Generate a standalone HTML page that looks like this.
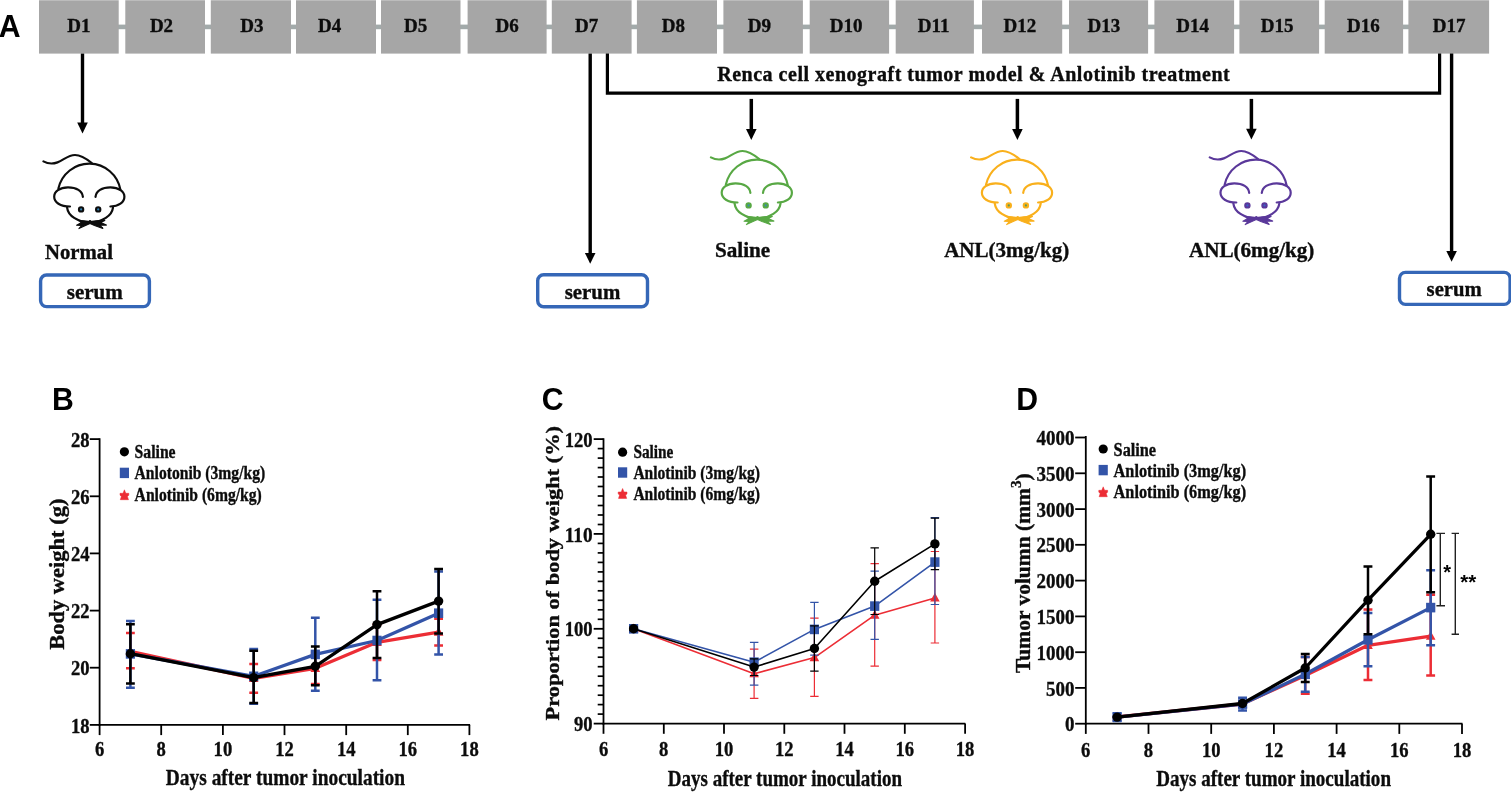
<!DOCTYPE html>
<html lang="en">
<head>
<meta charset="utf-8">
<title>Figure</title>
<style>
html,body{margin:0;padding:0;background:#fff;}
body{width:1511px;height:792px;overflow:hidden;}
svg{display:block;}
text{font-family:"Liberation Serif","Times New Roman",serif;font-weight:bold;fill:#0c0c0c;stroke:#0c0c0c;stroke-width:0.35px;}
.sans{font-family:"Liberation Sans",Arial,sans-serif;font-weight:bold;fill:#000;stroke:none;}
</style>
</head>
<body>
<svg width="1511" height="792" viewBox="0 0 1511 792">
<rect x="0" y="0" width="1511" height="792" fill="#ffffff"/>

<g id="panelA">
<text class="sans" transform="translate(-1.2,36.9) scale(0.975,1)" font-size="31">A</text>
<rect x="60" y="24.6" width="1400" height="4.6" fill="#a2aaaa"/>
<rect x="39.0" y="0" width="79.7" height="53.6" fill="#a6a6a6"/>
<rect x="125.3" y="0" width="79.7" height="53.6" fill="#a6a6a6"/>
<rect x="210.8" y="0" width="80.2" height="53.6" fill="#a6a6a6"/>
<rect x="296.0" y="0" width="80.0" height="53.6" fill="#a6a6a6"/>
<rect x="381.0" y="0" width="79.5" height="53.6" fill="#a6a6a6"/>
<rect x="467.6" y="0" width="79.0" height="53.6" fill="#a6a6a6"/>
<rect x="551.8" y="0" width="79.8" height="53.6" fill="#a6a6a6"/>
<rect x="636.9" y="0" width="80.1" height="53.6" fill="#a6a6a6"/>
<rect x="723.4" y="0" width="79.5" height="53.6" fill="#a6a6a6"/>
<rect x="809.7" y="0" width="79.4" height="53.6" fill="#a6a6a6"/>
<rect x="895.7" y="0" width="78.2" height="53.6" fill="#a6a6a6"/>
<rect x="982.0" y="0" width="80.2" height="53.6" fill="#a6a6a6"/>
<rect x="1069.0" y="0" width="79.1" height="53.6" fill="#a6a6a6"/>
<rect x="1154.4" y="0" width="79.7" height="53.6" fill="#a6a6a6"/>
<rect x="1239.4" y="0" width="79.7" height="53.6" fill="#a6a6a6"/>
<rect x="1324.7" y="0" width="78.4" height="53.6" fill="#a6a6a6"/>
<rect x="1408.4" y="0" width="80.7" height="53.6" fill="#a6a6a6"/>
<rect x="39" y="0" width="1450.1" height="0.9" fill="#ffffff" opacity="0.28"/>
<text x="78.9" y="31.6" font-size="19" text-anchor="middle">D1</text>
<text x="161.5" y="31.6" font-size="19" text-anchor="middle">D2</text>
<text x="251.9" y="31.6" font-size="19" text-anchor="middle">D3</text>
<text x="329.7" y="31.6" font-size="19" text-anchor="middle">D4</text>
<text x="415.7" y="31.6" font-size="19" text-anchor="middle">D5</text>
<text x="507.1" y="31.6" font-size="19" text-anchor="middle">D6</text>
<text x="586.7" y="31.6" font-size="19" text-anchor="middle">D7</text>
<text x="673.3" y="31.6" font-size="19" text-anchor="middle">D8</text>
<text x="759.4" y="31.6" font-size="19" text-anchor="middle">D9</text>
<text x="846.1" y="31.6" font-size="19" text-anchor="middle">D10</text>
<text x="933.7" y="31.6" font-size="19" text-anchor="middle">D11</text>
<text x="1019.8" y="31.6" font-size="19" text-anchor="middle">D12</text>
<text x="1103.9" y="31.6" font-size="19" text-anchor="middle">D13</text>
<text x="1192.6" y="31.6" font-size="19" text-anchor="middle">D14</text>
<text x="1277.1" y="31.6" font-size="19" text-anchor="middle">D15</text>
<text x="1363.3" y="31.6" font-size="19" text-anchor="middle">D16</text>
<text x="1449.2" y="31.6" font-size="19" text-anchor="middle">D17</text>
<line x1="82.5" y1="53.6" x2="82.5" y2="123.6" stroke="#000" stroke-width="3.4"/>
<polygon points="77.2,122.6 87.8,122.6 82.5,133.5" fill="#000"/>
<line x1="590.2" y1="53.6" x2="590.2" y2="253.9" stroke="#000" stroke-width="3.4"/>
<polygon points="584.9,252.9 595.5,252.9 590.2,263.8" fill="#000"/>
<line x1="1451.6" y1="53.6" x2="1451.6" y2="251.9" stroke="#000" stroke-width="3.4"/>
<polygon points="1446.3,250.9 1456.9,250.9 1451.6,261.8" fill="#000"/>
<polyline points="607.4,53.6 607.4,93.2 1439.6,93.2 1439.6,53.6" fill="none" stroke="#000" stroke-width="3.2" stroke-linejoin="miter"/>
<line x1="751.3" y1="98.9" x2="751.3" y2="130.0" stroke="#000" stroke-width="3.5"/>
<polygon points="746.0,129.0 756.6,129.0 751.3,139.9" fill="#000"/>
<line x1="1017.4" y1="98.9" x2="1017.4" y2="130.0" stroke="#000" stroke-width="3.5"/>
<polygon points="1012.1,129.0 1022.7,129.0 1017.4,139.9" fill="#000"/>
<line x1="1251.4" y1="98.9" x2="1251.4" y2="129.7" stroke="#000" stroke-width="3.5"/>
<polygon points="1246.1,128.7 1256.7,128.7 1251.4,139.6" fill="#000"/>
<text x="717.2" y="80.9" font-size="20" textLength="512.5" lengthAdjust="spacing">Renca cell xenograft tumor model &amp; Anlotinib treatment</text>
<g transform="translate(0,0)" fill="none" stroke="#0d0d0d" stroke-width="2.2" stroke-linecap="round" stroke-linejoin="round">
<path d="M43.4,161.4 C47.5,163.6 52.5,164.2 57.5,162.4 C63.5,160.2 68,155 75,155 C81.5,155 86.5,158.8 91.8,163"/>
<path d="M58.4,188.6 A31.6,31.6 0 0 1 120.4,189.8"/>
<path d="M82.9,196.9 C82.3,191 76.5,187.4 68,187.4 C59.5,187.4 54.2,191.6 54.2,196.8 C54.2,202.3 60.2,206.5 70,206.5"/>
<path d="M95.5,196.9 C96.1,191 101.9,187.4 110.4,187.4 C118.9,187.4 124.4,191.6 124.4,196.8 C124.4,202.3 118.6,206.5 110.4,206.5"/>
<path d="M67.1,207.6 C68,215.6 77.5,222.3 90,222.3 C102.5,222.3 112,215.6 113,207.6"/>
<path d="M90,221.6 L84,220.9 L78.4,220.6 L81.5,222.6 L76.6,225.2 L81.8,225.4 L78.9,228.6 L85.5,225.6 L90,223.6 L94.5,225.4 L102.9,228.4 L99.8,225.2 L106.4,225.1 L100.6,222.6 L104.8,220.4 L96,220.9 Z" fill="#0d0d0d" stroke="#0d0d0d" stroke-width="1.1"/>
<circle cx="90" cy="221.4" r="1.3" fill="#0d0d0d" stroke="none"/>
<circle cx="81.1" cy="209.4" r="2.1" fill="#0d0d0d"/>
<circle cx="98.2" cy="209.4" r="2.1" fill="#0d0d0d"/>
<circle cx="81.1" cy="209.4" r="1.1" fill="#2f7fb0" stroke="none"/>
<circle cx="98.2" cy="209.4" r="1.1" fill="#2f7fb0" stroke="none"/>
</g>
<g transform="translate(667.5,-4)" fill="none" stroke="#58a844" stroke-width="2.2" stroke-linecap="round" stroke-linejoin="round">
<path d="M43.4,161.4 C47.5,163.6 52.5,164.2 57.5,162.4 C63.5,160.2 68,155 75,155 C81.5,155 86.5,158.8 91.8,163"/>
<path d="M58.4,188.6 A31.6,31.6 0 0 1 120.4,189.8"/>
<path d="M82.9,196.9 C82.3,191 76.5,187.4 68,187.4 C59.5,187.4 54.2,191.6 54.2,196.8 C54.2,202.3 60.2,206.5 70,206.5"/>
<path d="M95.5,196.9 C96.1,191 101.9,187.4 110.4,187.4 C118.9,187.4 124.4,191.6 124.4,196.8 C124.4,202.3 118.6,206.5 110.4,206.5"/>
<path d="M67.1,207.6 C68,215.6 77.5,222.3 90,222.3 C102.5,222.3 112,215.6 113,207.6"/>
<path d="M90,221.6 L84,220.9 L78.4,220.6 L81.5,222.6 L76.6,225.2 L81.8,225.4 L78.9,228.6 L85.5,225.6 L90,223.6 L94.5,225.4 L102.9,228.4 L99.8,225.2 L106.4,225.1 L100.6,222.6 L104.8,220.4 L96,220.9 Z" fill="#58a844" stroke="#58a844" stroke-width="1.1"/>
<circle cx="90" cy="221.4" r="1.3" fill="#58a844" stroke="none"/>
<circle cx="81.1" cy="209.4" r="2.1" fill="#58a844"/>
<circle cx="98.2" cy="209.4" r="2.1" fill="#58a844"/>
<circle cx="81.1" cy="209.4" r="1.1" fill="#3a8fb0" stroke="none"/>
<circle cx="98.2" cy="209.4" r="1.1" fill="#3a8fb0" stroke="none"/>
</g>
<g transform="translate(927.7,-4)" fill="none" stroke="#f9b01c" stroke-width="2.2" stroke-linecap="round" stroke-linejoin="round">
<path d="M43.4,161.4 C47.5,163.6 52.5,164.2 57.5,162.4 C63.5,160.2 68,155 75,155 C81.5,155 86.5,158.8 91.8,163"/>
<path d="M58.4,188.6 A31.6,31.6 0 0 1 120.4,189.8"/>
<path d="M82.9,196.9 C82.3,191 76.5,187.4 68,187.4 C59.5,187.4 54.2,191.6 54.2,196.8 C54.2,202.3 60.2,206.5 70,206.5"/>
<path d="M95.5,196.9 C96.1,191 101.9,187.4 110.4,187.4 C118.9,187.4 124.4,191.6 124.4,196.8 C124.4,202.3 118.6,206.5 110.4,206.5"/>
<path d="M67.1,207.6 C68,215.6 77.5,222.3 90,222.3 C102.5,222.3 112,215.6 113,207.6"/>
<path d="M90,221.6 L84,220.9 L78.4,220.6 L81.5,222.6 L76.6,225.2 L81.8,225.4 L78.9,228.6 L85.5,225.6 L90,223.6 L94.5,225.4 L102.9,228.4 L99.8,225.2 L106.4,225.1 L100.6,222.6 L104.8,220.4 L96,220.9 Z" fill="#f9b01c" stroke="#f9b01c" stroke-width="1.1"/>
<circle cx="90" cy="221.4" r="1.3" fill="#f9b01c" stroke="none"/>
<circle cx="81.1" cy="209.4" r="2.1" fill="#f9b01c"/>
<circle cx="98.2" cy="209.4" r="2.1" fill="#f9b01c"/>
<circle cx="81.1" cy="209.4" r="1.1" fill="#5a9a5a" stroke="none"/>
<circle cx="98.2" cy="209.4" r="1.1" fill="#5a9a5a" stroke="none"/>
</g>
<g transform="translate(1166.3,-4)" fill="none" stroke="#5a389a" stroke-width="2.2" stroke-linecap="round" stroke-linejoin="round">
<path d="M43.4,161.4 C47.5,163.6 52.5,164.2 57.5,162.4 C63.5,160.2 68,155 75,155 C81.5,155 86.5,158.8 91.8,163"/>
<path d="M58.4,188.6 A31.6,31.6 0 0 1 120.4,189.8"/>
<path d="M82.9,196.9 C82.3,191 76.5,187.4 68,187.4 C59.5,187.4 54.2,191.6 54.2,196.8 C54.2,202.3 60.2,206.5 70,206.5"/>
<path d="M95.5,196.9 C96.1,191 101.9,187.4 110.4,187.4 C118.9,187.4 124.4,191.6 124.4,196.8 C124.4,202.3 118.6,206.5 110.4,206.5"/>
<path d="M67.1,207.6 C68,215.6 77.5,222.3 90,222.3 C102.5,222.3 112,215.6 113,207.6"/>
<path d="M90,221.6 L84,220.9 L78.4,220.6 L81.5,222.6 L76.6,225.2 L81.8,225.4 L78.9,228.6 L85.5,225.6 L90,223.6 L94.5,225.4 L102.9,228.4 L99.8,225.2 L106.4,225.1 L100.6,222.6 L104.8,220.4 L96,220.9 Z" fill="#5a389a" stroke="#5a389a" stroke-width="1.1"/>
<circle cx="90" cy="221.4" r="1.3" fill="#5a389a" stroke="none"/>
<circle cx="81.1" cy="209.4" r="2.1" fill="#5a389a"/>
<circle cx="98.2" cy="209.4" r="2.1" fill="#5a389a"/>
<circle cx="81.1" cy="209.4" r="1.1" fill="#3a63c8" stroke="none"/>
<circle cx="98.2" cy="209.4" r="1.1" fill="#3a63c8" stroke="none"/>
</g>
<text x="45" y="258.8" font-size="20.5" textLength="68" lengthAdjust="spacingAndGlyphs">Normal</text>
<text x="715" y="257.4" font-size="20.5" textLength="55.2" lengthAdjust="spacingAndGlyphs">Saline</text>
<text x="944.2" y="257.4" font-size="20.5" textLength="125" lengthAdjust="spacingAndGlyphs">ANL(3mg/kg)</text>
<text x="1188.9" y="257.4" font-size="20.5" textLength="125.5" lengthAdjust="spacingAndGlyphs">ANL(6mg/kg)</text>
<rect x="40.6" y="275.0" width="108.8" height="31.6" rx="6" ry="6" fill="#fff" stroke="#3567b7" stroke-width="3.4"/>
<text x="66.7" y="299.0" font-size="21.5" textLength="56.1" lengthAdjust="spacingAndGlyphs">serum</text>
<rect x="537.7" y="274.7" width="109.8" height="32.1" rx="6" ry="6" fill="#fff" stroke="#3567b7" stroke-width="3.4"/>
<text x="564.7" y="298.9" font-size="21.5" textLength="55.6" lengthAdjust="spacingAndGlyphs">serum</text>
<rect x="1399.5" y="272.4" width="110.6" height="32.0" rx="6" ry="6" fill="#fff" stroke="#3567b7" stroke-width="3.4"/>
<text x="1426.6" y="296.1" font-size="21.5" textLength="55.2" lengthAdjust="spacingAndGlyphs">serum</text>
</g>
<g id="chartB">
<text class="sans" transform="translate(52.1,409.90000000000003) scale(0.975,1)" font-size="31">B</text>
<path d="M130.4,633.0 V668.2 M126.0,633.0 H134.8 M126.0,668.2 H134.8" stroke="#ec2d35" stroke-width="2.5" fill="none"/>
<path d="M253.7,663.9 V692.8 M249.3,663.9 H258.1 M249.3,692.8 H258.1" stroke="#ec2d35" stroke-width="2.5" fill="none"/>
<path d="M315.3,652.7 V683.9 M310.9,652.7 H319.7 M310.9,683.9 H319.7" stroke="#ec2d35" stroke-width="2.5" fill="none"/>
<path d="M377.0,624.6 V660.0 M372.6,624.6 H381.4 M372.6,660.0 H381.4" stroke="#ec2d35" stroke-width="2.5" fill="none"/>
<path d="M438.6,618.8 V645.6 M434.2,618.8 H443.0 M434.2,645.6 H443.0" stroke="#ec2d35" stroke-width="2.5" fill="none"/>
<polyline points="130.4,651.3 253.7,678.4 315.3,668.3 377.0,642.3 438.6,632.2" fill="none" stroke="#ec2d35" stroke-width="3.3" stroke-linejoin="round"/>
<polygon points="130.4,646.1 135.2,654.9 125.6,654.9" fill="#ec2d35"/>
<polygon points="253.7,673.2 258.5,682.0 248.9,682.0" fill="#ec2d35"/>
<polygon points="315.3,663.1 320.1,671.9 310.5,671.9" fill="#ec2d35"/>
<polygon points="377.0,637.1 381.8,645.9 372.2,645.9" fill="#ec2d35"/>
<polygon points="438.6,627.0 443.4,635.8 433.8,635.8" fill="#ec2d35"/>
<path d="M130.4,621.0 V687.8 M126.0,621.0 H134.8 M126.0,687.8 H134.8" stroke="#3354a8" stroke-width="2.5" fill="none"/>
<path d="M253.7,648.9 V703.7 M249.3,648.9 H258.1 M249.3,703.7 H258.1" stroke="#3354a8" stroke-width="2.5" fill="none"/>
<path d="M315.3,617.8 V690.8 M310.9,617.8 H319.7 M310.9,690.8 H319.7" stroke="#3354a8" stroke-width="2.5" fill="none"/>
<path d="M377.0,599.8 V680.2 M372.6,599.8 H381.4 M372.6,680.2 H381.4" stroke="#3354a8" stroke-width="2.5" fill="none"/>
<path d="M438.6,571.6 V654.4 M434.2,571.6 H443.0 M434.2,654.4 H443.0" stroke="#3354a8" stroke-width="2.5" fill="none"/>
<polyline points="130.4,653.9 253.7,676.3 315.3,654.4 377.0,640.5 438.6,613.2" fill="none" stroke="#3354a8" stroke-width="3.3" stroke-linejoin="round"/>
<rect x="125.8" y="649.1" width="9.2" height="9.6" fill="#3354a8"/>
<rect x="249.1" y="671.5" width="9.2" height="9.6" fill="#3354a8"/>
<rect x="310.7" y="649.6" width="9.2" height="9.6" fill="#3354a8"/>
<rect x="372.4" y="635.7" width="9.2" height="9.6" fill="#3354a8"/>
<rect x="434.0" y="608.4" width="9.2" height="9.6" fill="#3354a8"/>
<path d="M130.4,624.3 V683.4 M126.0,624.3 H134.8 M126.0,683.4 H134.8" stroke="#000" stroke-width="2.5" fill="none"/>
<path d="M253.7,650.8 V703.0 M249.3,650.8 H258.1 M249.3,703.0 H258.1" stroke="#000" stroke-width="2.5" fill="none"/>
<path d="M315.3,646.6 V685.2 M310.9,646.6 H319.7 M310.9,685.2 H319.7" stroke="#000" stroke-width="2.5" fill="none"/>
<path d="M377.0,591.3 V657.9 M372.6,591.3 H381.4 M372.6,657.9 H381.4" stroke="#000" stroke-width="2.5" fill="none"/>
<path d="M438.6,569.0 V633.4 M434.2,569.0 H443.0 M434.2,633.4 H443.0" stroke="#000" stroke-width="2.5" fill="none"/>
<polyline points="130.4,653.7 253.7,677.6 315.3,666.3 377.0,624.6 438.6,601.1" fill="none" stroke="#000" stroke-width="3.3" stroke-linejoin="round"/>
<circle cx="130.4" cy="653.7" r="4.7" fill="#000"/>
<circle cx="253.7" cy="677.6" r="4.7" fill="#000"/>
<circle cx="315.3" cy="666.3" r="4.7" fill="#000"/>
<circle cx="377.0" cy="624.6" r="4.7" fill="#000"/>
<circle cx="438.6" cy="601.1" r="4.7" fill="#000"/>
<path d="M99.6,438.20000000000005 V725.8" stroke="#000" stroke-width="1.8" fill="none"/>
<path d="M98.69999999999999,724.9 H470.09999999999997" stroke="#000" stroke-width="1.8" fill="none"/>
<line x1="89.8" y1="724.9" x2="99.6" y2="724.9" stroke="#000" stroke-width="1.8"/>
<text x="71.0" y="732.5" font-size="21.3" textLength="18.6" lengthAdjust="spacingAndGlyphs">18</text>
<line x1="89.8" y1="667.7" x2="99.6" y2="667.7" stroke="#000" stroke-width="1.8"/>
<text x="71.0" y="675.3" font-size="21.3" textLength="18.6" lengthAdjust="spacingAndGlyphs">20</text>
<line x1="89.8" y1="610.6" x2="99.6" y2="610.6" stroke="#000" stroke-width="1.8"/>
<text x="71.0" y="618.2" font-size="21.3" textLength="18.6" lengthAdjust="spacingAndGlyphs">22</text>
<line x1="89.8" y1="553.4" x2="99.6" y2="553.4" stroke="#000" stroke-width="1.8"/>
<text x="71.0" y="561.0" font-size="21.3" textLength="18.6" lengthAdjust="spacingAndGlyphs">24</text>
<line x1="89.8" y1="496.3" x2="99.6" y2="496.3" stroke="#000" stroke-width="1.8"/>
<text x="71.0" y="503.9" font-size="21.3" textLength="18.6" lengthAdjust="spacingAndGlyphs">26</text>
<line x1="89.8" y1="439.1" x2="99.6" y2="439.1" stroke="#000" stroke-width="1.8"/>
<text x="71.0" y="446.7" font-size="21.3" textLength="18.6" lengthAdjust="spacingAndGlyphs">28</text>
<line x1="99.6" y1="724.9" x2="99.6" y2="735.1" stroke="#000" stroke-width="1.8"/>
<text x="94.9" y="756.1999999999999" font-size="21.3" textLength="9.3" lengthAdjust="spacingAndGlyphs">6</text>
<line x1="161.2" y1="724.9" x2="161.2" y2="735.1" stroke="#000" stroke-width="1.8"/>
<text x="156.6" y="756.1999999999999" font-size="21.3" textLength="9.3" lengthAdjust="spacingAndGlyphs">8</text>
<line x1="222.9" y1="724.9" x2="222.9" y2="735.1" stroke="#000" stroke-width="1.8"/>
<text x="213.6" y="756.1999999999999" font-size="21.3" textLength="18.6" lengthAdjust="spacingAndGlyphs">10</text>
<line x1="284.5" y1="724.9" x2="284.5" y2="735.1" stroke="#000" stroke-width="1.8"/>
<text x="275.2" y="756.1999999999999" font-size="21.3" textLength="18.6" lengthAdjust="spacingAndGlyphs">12</text>
<line x1="346.2" y1="724.9" x2="346.2" y2="735.1" stroke="#000" stroke-width="1.8"/>
<text x="336.9" y="756.1999999999999" font-size="21.3" textLength="18.6" lengthAdjust="spacingAndGlyphs">14</text>
<line x1="407.8" y1="724.9" x2="407.8" y2="735.1" stroke="#000" stroke-width="1.8"/>
<text x="398.5" y="756.1999999999999" font-size="21.3" textLength="18.6" lengthAdjust="spacingAndGlyphs">16</text>
<line x1="469.4" y1="724.9" x2="469.4" y2="735.1" stroke="#000" stroke-width="1.8"/>
<text x="460.1" y="756.1999999999999" font-size="21.3" textLength="18.6" lengthAdjust="spacingAndGlyphs">18</text>
<text x="165.8" y="784.9" font-size="22.5" textLength="239.2" lengthAdjust="spacingAndGlyphs">Days after tumor inoculation</text>
<text transform="translate(63.6,649.8) rotate(-90)" x="0" y="0" font-size="20.6" textLength="151.2" lengthAdjust="spacingAndGlyphs">Body weight (g)</text>
<circle cx="124.4" cy="451.8" r="4.6" fill="#000"/>
<text x="134.6" y="458.0" font-size="18" textLength="41.0" lengthAdjust="spacingAndGlyphs">Saline</text>
<rect x="119.8" y="467.7" width="9.2" height="10.4" fill="#3354a8"/>
<text x="134.6" y="479.3" font-size="18" textLength="130.6" lengthAdjust="spacingAndGlyphs">Anlotonib (3mg/kg)</text>
<polygon points="124.4,489.8 125.8,493.3 128.8,493.3 128.8,495.2 127.4,496.4 128.5,499.7 120.3,499.7 121.4,496.4 120.0,495.2 120.0,493.3 123.0,493.3" fill="#ec2d35" stroke="#ec2d35" stroke-width="0.5" stroke-linejoin="round"/>
<text x="134.6" y="500.9" font-size="18" textLength="127.2" lengthAdjust="spacingAndGlyphs">Anlotinib (6mg/kg)</text>
</g>
<g id="chartC">
<text class="sans" transform="translate(541.7,409.90000000000003) scale(0.975,1)" font-size="31">C</text>
<path d="M633.6,627.0 V630.6 M629.4,627.0 H637.8 M629.4,630.6 H637.8" stroke="#ec2d35" stroke-width="1.2" fill="none"/>
<path d="M754.1,649.2 V698.4 M749.9,649.2 H758.4 M749.9,698.4 H758.4" stroke="#ec2d35" stroke-width="1.2" fill="none"/>
<path d="M814.4,618.2 V696.4 M810.2,618.2 H818.6 M810.2,696.4 H818.6" stroke="#ec2d35" stroke-width="1.2" fill="none"/>
<path d="M874.7,563.6 V666.1 M870.5,563.6 H878.9 M870.5,666.1 H878.9" stroke="#ec2d35" stroke-width="1.2" fill="none"/>
<path d="M934.9,551.5 V643.0 M930.7,551.5 H939.1 M930.7,643.0 H939.1" stroke="#ec2d35" stroke-width="1.2" fill="none"/>
<polyline points="633.6,628.8 754.1,673.7 814.4,657.6 874.7,615.2 934.9,597.9" fill="none" stroke="#ec2d35" stroke-width="1.6" stroke-linejoin="round"/>
<polygon points="633.6,623.6 638.4,632.4 628.8,632.4" fill="#ec2d35"/>
<polygon points="754.1,668.5 758.9,677.3 749.4,677.3" fill="#ec2d35"/>
<polygon points="814.4,652.4 819.2,661.2 809.6,661.2" fill="#ec2d35"/>
<polygon points="874.7,610.0 879.5,618.8 869.9,618.8" fill="#ec2d35"/>
<polygon points="934.9,592.7 939.7,601.5 930.1,601.5" fill="#ec2d35"/>
<path d="M633.6,626.0 V631.6 M629.4,626.0 H637.8 M629.4,631.6 H637.8" stroke="#3354a8" stroke-width="1.2" fill="none"/>
<path d="M754.1,642.3 V685.2 M749.9,642.3 H758.4 M749.9,685.2 H758.4" stroke="#3354a8" stroke-width="1.2" fill="none"/>
<path d="M814.4,602.4 V655.2 M810.2,602.4 H818.6 M810.2,655.2 H818.6" stroke="#3354a8" stroke-width="1.2" fill="none"/>
<path d="M874.7,571.2 V639.4 M870.5,571.2 H878.9 M870.5,639.4 H878.9" stroke="#3354a8" stroke-width="1.2" fill="none"/>
<path d="M934.9,517.6 V604.5 M930.7,517.6 H939.1 M930.7,604.5 H939.1" stroke="#3354a8" stroke-width="1.2" fill="none"/>
<polyline points="633.6,628.8 754.1,662.2 814.4,629.4 874.7,606.1 934.9,562.1" fill="none" stroke="#3354a8" stroke-width="1.6" stroke-linejoin="round"/>
<rect x="629.0" y="624.0" width="9.2" height="9.6" fill="#3354a8"/>
<rect x="749.5" y="657.4" width="9.2" height="9.6" fill="#3354a8"/>
<rect x="809.8" y="624.6" width="9.2" height="9.6" fill="#3354a8"/>
<rect x="870.1" y="601.3" width="9.2" height="9.6" fill="#3354a8"/>
<rect x="930.3" y="557.3" width="9.2" height="9.6" fill="#3354a8"/>
<path d="M633.6,627.0 V630.6 M629.4,627.0 H637.8 M629.4,630.6 H637.8" stroke="#000" stroke-width="1.2" fill="none"/>
<path d="M754.1,658.9 V675.5 M749.9,658.9 H758.4 M749.9,675.5 H758.4" stroke="#000" stroke-width="1.2" fill="none"/>
<path d="M814.4,625.8 V671.2 M810.2,625.8 H818.6 M810.2,671.2 H818.6" stroke="#000" stroke-width="1.2" fill="none"/>
<path d="M874.7,547.9 V614.5 M870.5,547.9 H878.9 M870.5,614.5 H878.9" stroke="#000" stroke-width="1.2" fill="none"/>
<path d="M934.9,518.2 V569.7 M930.7,518.2 H939.1 M930.7,569.7 H939.1" stroke="#000" stroke-width="1.2" fill="none"/>
<polyline points="633.6,628.8 754.1,667.1 814.4,648.5 874.7,581.2 934.9,543.9" fill="none" stroke="#000" stroke-width="1.6" stroke-linejoin="round"/>
<circle cx="633.6" cy="628.8" r="4.7" fill="#000"/>
<circle cx="754.1" cy="667.1" r="4.7" fill="#000"/>
<circle cx="814.4" cy="648.5" r="4.7" fill="#000"/>
<circle cx="874.7" cy="581.2" r="4.7" fill="#000"/>
<circle cx="934.9" cy="543.9" r="4.7" fill="#000"/>
<path d="M603.5,438.20000000000005 V724.5" stroke="#000" stroke-width="1.8" fill="none"/>
<path d="M602.6,723.6 H965.3" stroke="#000" stroke-width="1.8" fill="none"/>
<line x1="593.7" y1="723.6" x2="603.5" y2="723.6" stroke="#000" stroke-width="1.8"/>
<text x="574.0" y="731.2" font-size="21.3" textLength="18.6" lengthAdjust="spacingAndGlyphs">90</text>
<line x1="593.7" y1="628.8" x2="603.5" y2="628.8" stroke="#000" stroke-width="1.8"/>
<text x="564.7" y="636.4" font-size="21.3" textLength="27.9" lengthAdjust="spacingAndGlyphs">100</text>
<line x1="593.7" y1="533.9" x2="603.5" y2="533.9" stroke="#000" stroke-width="1.8"/>
<text x="564.7" y="541.5" font-size="21.3" textLength="27.9" lengthAdjust="spacingAndGlyphs">110</text>
<line x1="593.7" y1="439.1" x2="603.5" y2="439.1" stroke="#000" stroke-width="1.8"/>
<text x="564.7" y="446.7" font-size="21.3" textLength="27.9" lengthAdjust="spacingAndGlyphs">120</text>
<line x1="597.7" y1="714.1" x2="603.5" y2="714.1" stroke="#000" stroke-width="1.7"/>
<line x1="597.7" y1="704.6" x2="603.5" y2="704.6" stroke="#000" stroke-width="1.7"/>
<line x1="597.7" y1="695.2" x2="603.5" y2="695.2" stroke="#000" stroke-width="1.7"/>
<line x1="597.7" y1="685.7" x2="603.5" y2="685.7" stroke="#000" stroke-width="1.7"/>
<line x1="597.7" y1="676.2" x2="603.5" y2="676.2" stroke="#000" stroke-width="1.7"/>
<line x1="597.7" y1="666.7" x2="603.5" y2="666.7" stroke="#000" stroke-width="1.7"/>
<line x1="597.7" y1="657.2" x2="603.5" y2="657.2" stroke="#000" stroke-width="1.7"/>
<line x1="597.7" y1="647.7" x2="603.5" y2="647.7" stroke="#000" stroke-width="1.7"/>
<line x1="597.7" y1="638.3" x2="603.5" y2="638.3" stroke="#000" stroke-width="1.7"/>
<line x1="597.7" y1="619.3" x2="603.5" y2="619.3" stroke="#000" stroke-width="1.7"/>
<line x1="597.7" y1="609.8" x2="603.5" y2="609.8" stroke="#000" stroke-width="1.7"/>
<line x1="597.7" y1="600.3" x2="603.5" y2="600.3" stroke="#000" stroke-width="1.7"/>
<line x1="597.7" y1="590.8" x2="603.5" y2="590.8" stroke="#000" stroke-width="1.7"/>
<line x1="597.7" y1="581.4" x2="603.5" y2="581.4" stroke="#000" stroke-width="1.7"/>
<line x1="597.7" y1="571.9" x2="603.5" y2="571.9" stroke="#000" stroke-width="1.7"/>
<line x1="597.7" y1="562.4" x2="603.5" y2="562.4" stroke="#000" stroke-width="1.7"/>
<line x1="597.7" y1="552.9" x2="603.5" y2="552.9" stroke="#000" stroke-width="1.7"/>
<line x1="597.7" y1="543.4" x2="603.5" y2="543.4" stroke="#000" stroke-width="1.7"/>
<line x1="597.7" y1="524.5" x2="603.5" y2="524.5" stroke="#000" stroke-width="1.7"/>
<line x1="597.7" y1="515.0" x2="603.5" y2="515.0" stroke="#000" stroke-width="1.7"/>
<line x1="597.7" y1="505.5" x2="603.5" y2="505.5" stroke="#000" stroke-width="1.7"/>
<line x1="597.7" y1="496.0" x2="603.5" y2="496.0" stroke="#000" stroke-width="1.7"/>
<line x1="597.7" y1="486.5" x2="603.5" y2="486.5" stroke="#000" stroke-width="1.7"/>
<line x1="597.7" y1="477.0" x2="603.5" y2="477.0" stroke="#000" stroke-width="1.7"/>
<line x1="597.7" y1="467.6" x2="603.5" y2="467.6" stroke="#000" stroke-width="1.7"/>
<line x1="597.7" y1="458.1" x2="603.5" y2="458.1" stroke="#000" stroke-width="1.7"/>
<line x1="597.7" y1="448.6" x2="603.5" y2="448.6" stroke="#000" stroke-width="1.7"/>
<line x1="603.5" y1="723.6" x2="603.5" y2="733.8000000000001" stroke="#000" stroke-width="1.8"/>
<text x="598.9" y="756.3" font-size="21.3" textLength="9.3" lengthAdjust="spacingAndGlyphs">6</text>
<line x1="663.8" y1="723.6" x2="663.8" y2="733.8000000000001" stroke="#000" stroke-width="1.8"/>
<text x="659.1" y="756.3" font-size="21.3" textLength="9.3" lengthAdjust="spacingAndGlyphs">8</text>
<line x1="724.0" y1="723.6" x2="724.0" y2="733.8000000000001" stroke="#000" stroke-width="1.8"/>
<text x="714.7" y="756.3" font-size="21.3" textLength="18.6" lengthAdjust="spacingAndGlyphs">10</text>
<line x1="784.3" y1="723.6" x2="784.3" y2="733.8000000000001" stroke="#000" stroke-width="1.8"/>
<text x="775.0" y="756.3" font-size="21.3" textLength="18.6" lengthAdjust="spacingAndGlyphs">12</text>
<line x1="844.5" y1="723.6" x2="844.5" y2="733.8000000000001" stroke="#000" stroke-width="1.8"/>
<text x="835.2" y="756.3" font-size="21.3" textLength="18.6" lengthAdjust="spacingAndGlyphs">14</text>
<line x1="904.8" y1="723.6" x2="904.8" y2="733.8000000000001" stroke="#000" stroke-width="1.8"/>
<text x="895.5" y="756.3" font-size="21.3" textLength="18.6" lengthAdjust="spacingAndGlyphs">16</text>
<line x1="965.1" y1="723.6" x2="965.1" y2="733.8000000000001" stroke="#000" stroke-width="1.8"/>
<text x="955.8" y="756.3" font-size="21.3" textLength="18.6" lengthAdjust="spacingAndGlyphs">18</text>
<text x="667.8" y="785.5" font-size="22.5" textLength="234.2" lengthAdjust="spacingAndGlyphs">Days after tumor inoculation</text>
<text transform="translate(558.6,720.4) rotate(-90)" x="0" y="0" font-size="19.4" textLength="294.4" lengthAdjust="spacingAndGlyphs">Proportion of body weight (%)</text>
<circle cx="622.6" cy="452.2" r="4.6" fill="#000"/>
<text x="633.4" y="458.4" font-size="18" textLength="40.0" lengthAdjust="spacingAndGlyphs">Saline</text>
<rect x="618.0" y="467.3" width="9.2" height="10.4" fill="#3354a8"/>
<text x="633.4" y="479.3" font-size="18" textLength="126.6" lengthAdjust="spacingAndGlyphs">Anlotinib (3mg/kg)</text>
<polygon points="622.6,488.5 624.0,492.0 627.0,492.0 627.0,493.9 625.6,495.1 626.7,498.4 618.5,498.4 619.6,495.1 618.2,493.9 618.2,492.0 621.2,492.0" fill="#ec2d35" stroke="#ec2d35" stroke-width="0.5" stroke-linejoin="round"/>
<text x="633.4" y="499.8" font-size="18" textLength="126.6" lengthAdjust="spacingAndGlyphs">Anlotinib (6mg/kg)</text>
</g>
<g id="chartD">
<text class="sans" transform="translate(1016.3000000000001,409.90000000000003) scale(0.975,1)" font-size="31">D</text>
<path d="M1117.1,717.0 V717.0 M1112.7,717.0 H1121.5 M1112.7,717.0 H1121.5" stroke="#ec2d35" stroke-width="2.5" fill="none"/>
<path d="M1242.5,704.0 V704.0 M1238.1,704.0 H1247.0 M1238.1,704.0 H1247.0" stroke="#ec2d35" stroke-width="2.5" fill="none"/>
<path d="M1305.2,657.0 V693.7 M1300.8,657.0 H1309.7 M1300.8,693.7 H1309.7" stroke="#ec2d35" stroke-width="2.5" fill="none"/>
<path d="M1368.0,609.4 V680.1 M1363.5,609.4 H1372.4 M1363.5,680.1 H1372.4" stroke="#ec2d35" stroke-width="2.5" fill="none"/>
<path d="M1430.7,594.7 V675.4 M1426.2,594.7 H1435.1 M1426.2,675.4 H1435.1" stroke="#ec2d35" stroke-width="2.5" fill="none"/>
<polyline points="1117.1,717.0 1242.5,704.0 1305.2,675.4 1368.0,645.3 1430.7,636.1" fill="none" stroke="#ec2d35" stroke-width="3.3" stroke-linejoin="round"/>
<polygon points="1117.1,711.8 1121.9,720.6 1112.3,720.6" fill="#ec2d35"/>
<polygon points="1242.5,698.8 1247.3,707.6 1237.8,707.6" fill="#ec2d35"/>
<polygon points="1305.2,670.2 1310.0,679.0 1300.5,679.0" fill="#ec2d35"/>
<polygon points="1368.0,640.1 1372.8,648.9 1363.2,648.9" fill="#ec2d35"/>
<polygon points="1430.7,630.9 1435.5,639.7 1425.9,639.7" fill="#ec2d35"/>
<path d="M1117.1,713.2 V721.1 M1112.7,713.2 H1121.5 M1112.7,721.1 H1121.5" stroke="#3354a8" stroke-width="2.5" fill="none"/>
<path d="M1242.5,697.8 V710.4 M1238.1,697.8 H1247.0 M1238.1,710.4 H1247.0" stroke="#3354a8" stroke-width="2.5" fill="none"/>
<path d="M1305.2,657.0 V691.8 M1300.8,657.0 H1309.7 M1300.8,691.8 H1309.7" stroke="#3354a8" stroke-width="2.5" fill="none"/>
<path d="M1368.0,613.0 V666.2 M1363.5,613.0 H1372.4 M1363.5,666.2 H1372.4" stroke="#3354a8" stroke-width="2.5" fill="none"/>
<path d="M1430.7,570.2 V645.3 M1426.2,570.2 H1435.1 M1426.2,645.3 H1435.1" stroke="#3354a8" stroke-width="2.5" fill="none"/>
<polyline points="1117.1,717.1 1242.5,704.1 1305.2,674.3 1368.0,639.8 1430.7,607.6" fill="none" stroke="#3354a8" stroke-width="3.3" stroke-linejoin="round"/>
<rect x="1112.5" y="712.3" width="9.2" height="9.6" fill="#3354a8"/>
<rect x="1238.0" y="699.3" width="9.2" height="9.6" fill="#3354a8"/>
<rect x="1300.7" y="669.5" width="9.2" height="9.6" fill="#3354a8"/>
<rect x="1363.4" y="635.0" width="9.2" height="9.6" fill="#3354a8"/>
<rect x="1426.1" y="602.8" width="9.2" height="9.6" fill="#3354a8"/>
<path d="M1117.1,717.1 V717.1 M1112.7,717.1 H1121.5 M1112.7,717.1 H1121.5" stroke="#000" stroke-width="2.5" fill="none"/>
<path d="M1242.5,703.5 V703.5 M1238.1,703.5 H1247.0 M1238.1,703.5 H1247.0" stroke="#000" stroke-width="2.5" fill="none"/>
<path d="M1305.2,654.1 V681.9 M1300.8,654.1 H1309.7 M1300.8,681.9 H1309.7" stroke="#000" stroke-width="2.5" fill="none"/>
<path d="M1368.0,566.5 V634.3 M1363.5,566.5 H1372.4 M1363.5,634.3 H1372.4" stroke="#000" stroke-width="2.5" fill="none"/>
<path d="M1430.7,476.4 V592.2 M1426.2,476.4 H1435.1 M1426.2,592.2 H1435.1" stroke="#000" stroke-width="2.5" fill="none"/>
<polyline points="1117.1,717.1 1242.5,703.5 1305.2,668.0 1368.0,600.2 1430.7,534.3" fill="none" stroke="#000" stroke-width="3.3" stroke-linejoin="round"/>
<circle cx="1117.1" cy="717.1" r="4.7" fill="#000"/>
<circle cx="1242.5" cy="703.5" r="4.7" fill="#000"/>
<circle cx="1305.2" cy="668.0" r="4.7" fill="#000"/>
<circle cx="1368.0" cy="600.2" r="4.7" fill="#000"/>
<circle cx="1430.7" cy="534.3" r="4.7" fill="#000"/>
<path d="M1085.8,435.90000000000003 V724.6" stroke="#000" stroke-width="1.8" fill="none"/>
<path d="M1084.8999999999999,723.7 H1462.5" stroke="#000" stroke-width="1.8" fill="none"/>
<line x1="1075.2" y1="723.7" x2="1085.8" y2="723.7" stroke="#000" stroke-width="1.8"/>
<text x="1065.1" y="731.3" font-size="21.3" textLength="9.5" lengthAdjust="spacingAndGlyphs">0</text>
<line x1="1075.2" y1="687.9" x2="1085.8" y2="687.9" stroke="#000" stroke-width="1.8"/>
<text x="1046.1" y="695.5" font-size="21.3" textLength="28.5" lengthAdjust="spacingAndGlyphs">500</text>
<line x1="1075.2" y1="652.2" x2="1085.8" y2="652.2" stroke="#000" stroke-width="1.8"/>
<text x="1036.6" y="659.8" font-size="21.3" textLength="38.0" lengthAdjust="spacingAndGlyphs">1000</text>
<line x1="1075.2" y1="616.4" x2="1085.8" y2="616.4" stroke="#000" stroke-width="1.8"/>
<text x="1036.6" y="624.0" font-size="21.3" textLength="38.0" lengthAdjust="spacingAndGlyphs">1500</text>
<line x1="1075.2" y1="580.6" x2="1085.8" y2="580.6" stroke="#000" stroke-width="1.8"/>
<text x="1036.6" y="588.2" font-size="21.3" textLength="38.0" lengthAdjust="spacingAndGlyphs">2000</text>
<line x1="1075.2" y1="544.8" x2="1085.8" y2="544.8" stroke="#000" stroke-width="1.8"/>
<text x="1036.6" y="552.4" font-size="21.3" textLength="38.0" lengthAdjust="spacingAndGlyphs">2500</text>
<line x1="1075.2" y1="509.1" x2="1085.8" y2="509.1" stroke="#000" stroke-width="1.8"/>
<text x="1036.6" y="516.7" font-size="21.3" textLength="38.0" lengthAdjust="spacingAndGlyphs">3000</text>
<line x1="1075.2" y1="473.3" x2="1085.8" y2="473.3" stroke="#000" stroke-width="1.8"/>
<text x="1036.6" y="480.9" font-size="21.3" textLength="38.0" lengthAdjust="spacingAndGlyphs">3500</text>
<line x1="1075.2" y1="437.5" x2="1085.8" y2="437.5" stroke="#000" stroke-width="1.8"/>
<text x="1036.6" y="445.1" font-size="21.3" textLength="38.0" lengthAdjust="spacingAndGlyphs">4000</text>
<line x1="1085.8" y1="723.7" x2="1085.8" y2="733.9000000000001" stroke="#000" stroke-width="1.8"/>
<text x="1081.1" y="756.8" font-size="21.3" textLength="9.3" lengthAdjust="spacingAndGlyphs">6</text>
<line x1="1148.5" y1="723.7" x2="1148.5" y2="733.9000000000001" stroke="#000" stroke-width="1.8"/>
<text x="1143.8" y="756.8" font-size="21.3" textLength="9.3" lengthAdjust="spacingAndGlyphs">8</text>
<line x1="1211.2" y1="723.7" x2="1211.2" y2="733.9000000000001" stroke="#000" stroke-width="1.8"/>
<text x="1201.9" y="756.8" font-size="21.3" textLength="18.6" lengthAdjust="spacingAndGlyphs">10</text>
<line x1="1273.9" y1="723.7" x2="1273.9" y2="733.9000000000001" stroke="#000" stroke-width="1.8"/>
<text x="1264.6" y="756.8" font-size="21.3" textLength="18.6" lengthAdjust="spacingAndGlyphs">12</text>
<line x1="1336.6" y1="723.7" x2="1336.6" y2="733.9000000000001" stroke="#000" stroke-width="1.8"/>
<text x="1327.3" y="756.8" font-size="21.3" textLength="18.6" lengthAdjust="spacingAndGlyphs">14</text>
<line x1="1399.3" y1="723.7" x2="1399.3" y2="733.9000000000001" stroke="#000" stroke-width="1.8"/>
<text x="1390.0" y="756.8" font-size="21.3" textLength="18.6" lengthAdjust="spacingAndGlyphs">16</text>
<line x1="1462.0" y1="723.7" x2="1462.0" y2="733.9000000000001" stroke="#000" stroke-width="1.8"/>
<text x="1452.7" y="756.8" font-size="21.3" textLength="18.6" lengthAdjust="spacingAndGlyphs">18</text>
<text x="1156.2" y="785.5" font-size="22.5" textLength="234.8" lengthAdjust="spacingAndGlyphs">Days after tumor inoculation</text>
<text transform="translate(1030.0,673.0) rotate(-90)" x="0" y="0" font-size="20" textLength="199.6" lengthAdjust="spacingAndGlyphs">Tumor volumn (mm<tspan dy="-8.6" font-size="14">3</tspan><tspan dy="8.6">)</tspan></text>
<circle cx="1103.2" cy="449.0" r="4.6" fill="#000"/>
<text x="1113.6" y="455.5" font-size="18" textLength="42.5" lengthAdjust="spacingAndGlyphs">Saline</text>
<rect x="1098.6" y="464.9" width="9.2" height="10.4" fill="#3354a8"/>
<text x="1113.6" y="476.6" font-size="18" textLength="132.5" lengthAdjust="spacingAndGlyphs">Anlotinib (3mg/kg)</text>
<polygon points="1103.2,486.8 1104.6,490.3 1107.6,490.3 1107.6,492.2 1106.2,493.4 1107.3,496.7 1099.1,496.7 1100.2,493.4 1098.8,492.2 1098.8,490.3 1101.8,490.3" fill="#ec2d35" stroke="#ec2d35" stroke-width="0.5" stroke-linejoin="round"/>
<text x="1113.6" y="497.7" font-size="18" textLength="132.5" lengthAdjust="spacingAndGlyphs">Anlotinib (6mg/kg)</text>
<path d="M1440.3,533.4 V605.7 M1436.4,533.4 H1445 M1436.4,605.7 H1445" stroke="#222" stroke-width="1.4" fill="none"/>
<path d="M1455.3,533.4 V634.3 M1451.6,533.4 H1459 M1451.6,634.3 H1459" stroke="#222" stroke-width="1.4" fill="none"/>
<text class="sans" x="1443.2" y="578.6" font-size="20">*</text>
<text class="sans" x="1460.2" y="588.6" font-size="20" textLength="16" lengthAdjust="spacingAndGlyphs">**</text>
</g>
</svg>
</body>
</html>
